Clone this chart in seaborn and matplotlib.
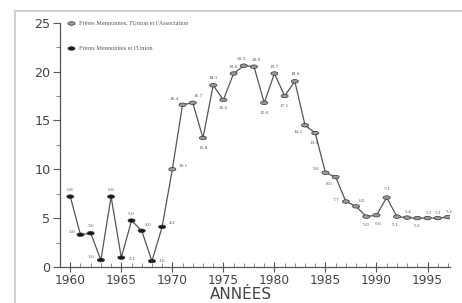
import numpy as np
import pandas as pd
import matplotlib
matplotlib.use("Agg")
import matplotlib.pyplot as plt
from matplotlib.path import Path
from matplotlib.patches import Rectangle
import seaborn as sns

# ---- data ----
years_union = [1960, 1961, 1962, 1963, 1964, 1965, 1966, 1967, 1968, 1969]
values_union = [7.2, 3.3, 3.45, 0.7, 7.2, 0.95, 4.75, 3.7, 0.6, 4.1]
labels_union = ["6.8", "3.0", "3.6", "1.6", "6.9", "2.1", "5.0", "4.0", "1.6", "4.2"]

years_assoc = list(range(1970, 1998))
values_assoc = [10.0, 16.6, 16.8, 13.2, 18.6, 17.1, 19.8, 20.6, 20.5, 16.8,
                19.8, 17.5, 19.0, 14.5, 13.7, 9.65, 9.2, 6.7, 6.2, 5.15,
                5.3, 7.1, 5.15, 5.05, 5.0, 5.0, 5.0, 5.1]
labels_assoc = ["10.1", "16.4", "16.7", "12.8", "18.1", "16.6", "19.6", "20.3", "20.9", "15.6",
                "19.7", "17.1", "18.6", "14.1", "13.6", "9.6", "8.5", "7.7", "6.5", "5.0",
                "5.6", "7.1", "5.1", "5.4", "5.2", "5.1", "5.1", "5.3"]

series_union = "Frères Mennonites et l'Union"
series_assoc = "Frères Mennonites, l'Union et l'Association"
xlabel = "ANNÉES"
yticks = [0, 5, 10, 15, 20, 25]
xticks = [1960, 1965, 1970, 1975, 1980, 1985, 1990, 1995]

# label offsets in points (position styling)
off_union = [(0, 5), (-6, 2), (0, 5), (-7, 2), (0, 5), (8, -1), (0, 5), (5, 4), (7, 0), (7, 3)]
off_assoc = [(8, 2), (-6, 4), (4, 5), (0, -7), (0, 5), (0, -6), (0, 5), (-2, 5), (2, 5), (0, -7),
             (0, 5), (0, -7), (0, 5), (-5, -5), (-1, -7), (-7, 3), (-5, -5), (-7, 1), (4, 4), (0, -6),
             (1, -6), (0, 6), (-1, -6), (1, 4), (0, -6), (1, 4), (0, 4), (1, 4)]

df_u = pd.DataFrame({"year": years_union, "value": values_union, "serie": series_union})
df_a = pd.DataFrame({"year": years_assoc, "value": values_assoc, "serie": series_assoc})
df = pd.concat([df_u, df_a], ignore_index=True)
df["all"] = "all"

sns.set_theme(style="white")
plt.rcParams["font.family"] = ["DejaVu Sans"]

fig = plt.figure(figsize=(4.62, 3.03), dpi=100)
ax = fig.add_axes([0.130, 0.119, 0.844, 0.806])

# ellipse marker
t = np.linspace(0, 2 * np.pi, 40)
ell = Path(np.column_stack([1.0 * np.cos(t), 0.5 * np.sin(t)]))

sns.lineplot(data=df, x="year", y="value", units="all", estimator=None,
             color="#555555", linewidth=0.9, ax=ax, legend=False)
sns.scatterplot(data=df, x="year", y="value", hue="serie",
                hue_order=[series_assoc, series_union],
                palette={series_assoc: "#9a9a9a", series_union: "#1a1a1a"},
                marker=ell, s=26, edgecolor="#333333", linewidth=0.5, ax=ax, zorder=3)

for yrs, vals, labs, offs in [(years_union, values_union, labels_union, off_union),
                              (years_assoc, values_assoc, labels_assoc, off_assoc)]:
    for x, y, l, o in zip(yrs, vals, labs, offs):
        ax.annotate(l, (x, y), xytext=o, textcoords="offset points",
                    ha="center", va="center", fontsize=3.8, color="#555555",
                    family="Liberation Serif")

ax.set_xlim(1959, 1997.2)
ax.set_ylim(0, 25)
ax.set_xticks(xticks)
ax.set_yticks(yticks)
ax.set_xticks(range(1959, 1998), minor=True)
ax.set_yticks(np.arange(0, 25.1, 2.5), minor=True)
ax.tick_params(axis="x", which="major", direction="inout", length=7, width=0.8,
               colors="#555555", labelcolor="#444444", labelsize=8.8, pad=1.5)
ax.tick_params(axis="x", which="minor", direction="in", length=3, width=0.6, colors="#777777")
ax.tick_params(axis="y", which="major", direction="out", length=5, width=0.8,
               colors="#555555", labelcolor="#444444", labelsize=9.2, pad=2)
ax.tick_params(axis="y", which="minor", direction="out", length=3, width=0.6, colors="#777777")
ax.tick_params(bottom=True, left=True, which="both")

for s in ["top", "right"]:
    ax.spines[s].set_visible(False)
for s in ["left", "bottom"]:
    ax.spines[s].set_color("#555555")
    ax.spines[s].set_linewidth(0.9)

ax.set_xlabel(xlabel, fontsize=11, color="#444444", labelpad=0, va="top")
ax.xaxis.set_label_coords(0.465, -0.083)
ax.set_ylabel("")

leg = ax.legend(loc="upper left", bbox_to_anchor=(0.0, 1.03), frameon=False,
                prop={"family": "Liberation Serif", "size": 4.5},
                labelspacing=3.2, handletextpad=0.3, markerscale=1.0, borderaxespad=0.4)
for txt in leg.get_texts():
    txt.set_color("#555555")

# scanned page frame
fig.patches.append(Rectangle((0.032, -0.1), 1.2, 1.065, transform=fig.transFigure,
                             fill=False, edgecolor="#cfcfcf", linewidth=1.5, zorder=0))

fig.savefig("out.png", dpi=100, facecolor="white")
